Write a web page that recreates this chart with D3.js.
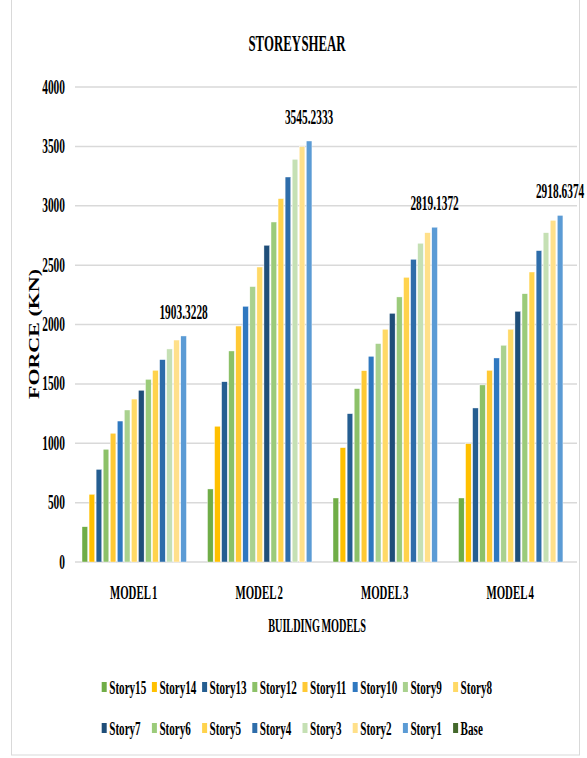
<!DOCTYPE html>
<html>
<head>
<meta charset="utf-8">
<script src="https://cdn.jsdelivr.net/npm/d3@7"></script>
<style>
  html, body { margin: 0; padding: 0; background: #fff; }
  text { font-family: "Liberation Serif", "Times New Roman", serif; font-weight: bold; fill: #000; }
</style>
</head>
<body>
<svg id="chart" width="587" height="758"></svg>
<script>
const models = ["MODEL 1", "MODEL 2", "MODEL 3", "MODEL 4"];
const stories = ["Story15", "Story14", "Story13", "Story12", "Story11", "Story10", "Story9", "Story8",
                 "Story7", "Story6", "Story5", "Story4", "Story3", "Story2", "Story1", "Base"];
const storyColors = ["#70AD47", "#FFC000", "#255E91", "#8CC168", "#FFC935", "#2F78C0", "#A9D18E", "#FFD966",
                     "#1F4E79", "#9BCB7A", "#FFD34D", "#2E6DAA", "#C5E0B4", "#FFE08A", "#5B9BD5", "#43682B"];
const model1 = [297, 570, 780, 949, 1084, 1187, 1280, 1372, 1446, 1538, 1614, 1704, 1794, 1869, 1903.3228, 0];
const model2 = [615, 1143, 1518, 1777, 1987, 2153, 2319, 2484, 2667, 2863, 3060, 3242, 3391, 3498, 3545.2333, 0];
const model3 = [539, 963, 1249, 1460, 1611, 1732, 1839, 1960, 2094, 2232, 2397, 2549, 2684, 2773, 2819.1372, 0];
const model4 = [539, 996, 1297, 1491, 1614, 1718, 1825, 1960, 2111, 2259, 2442, 2622, 2773, 2877, 2918.6374, 0];
const peakLabels = ["1903.3228", "3545.2333", "2819.1372", "2918.6374"];
const yTicks = [0, 500, 1000, 1500, 2000, 2500, 3000, 3500, 4000];

const seriesByModel = [model1, model2, model3, model4];
const SX = 0.57; // text in the source is squeezed horizontally

const svg = d3.select("#chart");

// frame
svg.append("rect")
  .attr("x", 11.5).attr("y", -2).attr("width", 568).attr("height", 757)
  .attr("fill", "none").attr("stroke", "#d9d9d9");

const x0 = d3.scaleBand().domain(models).range([75, 577]);
const x1 = d3.scaleBand().domain(stories).range([5.6, x0.bandwidth() - 5.6]).padding(0.2);
const y = d3.scaleLinear().domain([0, 4000]).range([562, 87]);

function put(sel, x, yy, rot, sx = SX) {
  sel.attr("transform", `translate(${x},${yy}) scale(${sx},1)` + (rot ? ` rotate(${rot})` : ""));
  return sel;
}

// gridlines
svg.append("g").selectAll("line")
  .data(yTicks)
  .enter().append("line")
  .attr("x1", 75).attr("x2", 577)
  .attr("y1", d => y(d)).attr("y2", d => y(d))
  .attr("stroke", "#d9d9d9").attr("stroke-width", 1.5);

// y tick labels
svg.append("g").selectAll("text")
  .data(yTicks)
  .enter().append("text")
  .attr("text-anchor", "end")
  .style("font-size", "20px")
  .text(d => d)
  .each(function(d) { put(d3.select(this), 65, y(d) + 6.5); });

// bars
const rows = [];
models.forEach((m, mi) => stories.forEach((s, si) => rows.push({ model: m, story: s, i: si, value: seriesByModel[mi][si] })));

svg.append("g").selectAll("rect")
  .data(rows)
  .enter().append("rect")
  .attr("x", d => x0(d.model) + x1(d.story))
  .attr("y", d => y(d.value))
  .attr("width", x1.bandwidth())
  .attr("height", d => y(0) - y(d.value))
  .attr("fill", d => storyColors[d.i])
  .attr("stroke", "#fff").attr("stroke-width", 0.4);

// peak labels over Story1
svg.append("g").selectAll("text")
  .data(models)
  .enter().append("text")
  .attr("text-anchor", "middle")
  .style("font-size", "20px")
  .text((d, i) => peakLabels[i])
  .each(function(d, i) {
    put(d3.select(this), x0(d) + x1("Story1") + x1.bandwidth() / 2, y(seriesByModel[i][14]) - 17);
  });

// category labels
svg.append("g").selectAll("text")
  .data(models)
  .enter().append("text")
  .attr("text-anchor", "middle")
  .style("font-size", "19px")
  .style("word-spacing", "-1.5px")
  .text(d => d)
  .each(function(d) { put(d3.select(this), x0(d) + x0.bandwidth() / 2 - 4, 599); });

// titles
put(svg.append("text").attr("text-anchor", "middle").style("font-size", "22.5px").style("word-spacing", "-4px")
  .text("STOREY SHEAR"), 297, 51);
put(svg.append("text").attr("text-anchor", "middle").style("font-size", "18px").style("word-spacing", "-2px")
  .text("BUILDING MODELS"), 317, 632);
put(svg.append("text").attr("text-anchor", "middle").style("font-size", "22px").text("FORCE (KN)"), 39, 334, -90, 0.63);

// legend
const legend = svg.append("g").selectAll("g")
  .data(stories)
  .enter().append("g")
  .attr("transform", (d, i) => `translate(${101.7 + (i % 8) * 50.2},${682 + Math.floor(i / 8) * 41})`);

legend.append("rect")
  .attr("width", 5).attr("height", 10)
  .attr("fill", (d, i) => storyColors[i]);

legend.append("text")
  .style("font-size", "19.5px")
  .text(d => d)
  .each(function() { put(d3.select(this), 7.5, 12); });
</script>
</body>
</html>
